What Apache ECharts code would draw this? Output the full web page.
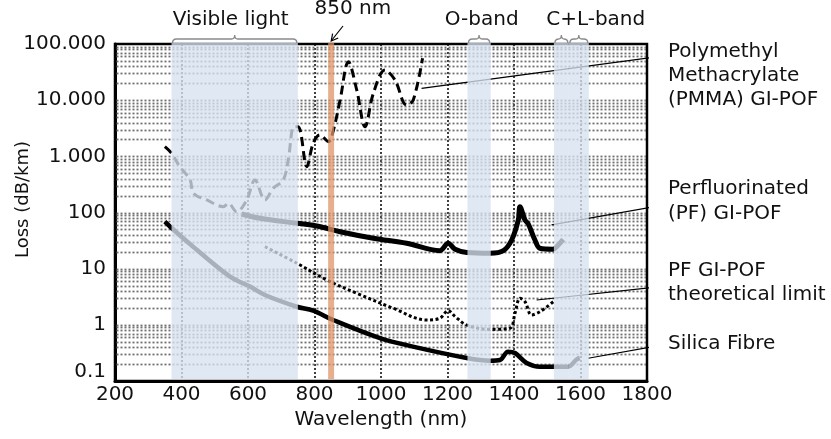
<!DOCTYPE html>
<html><head><meta charset="utf-8">
<script src="https://cdn.jsdelivr.net/npm/echarts@6/dist/echarts.min.js"></script>
<style>html,body{margin:0;padding:0;background:#fff}#c{width:831px;height:439px}</style>
</head><body><div id="c"></div>
<script>
// ---------- data ----------
const xTickValues = [200, 400, 600, 800, 1000, 1200, 1400, 1600, 1800];
const yTickLabels = ['0.1', '1', '10', '100', '1.000', '10.000', '100.000'];

const pmmaWl   = [350, 370, 395, 426, 436, 476, 526, 541, 566, 596, 621, 651, 676, 706, 721, 738, 751, 777, 796, 816, 842, 857, 877, 902, 927, 952, 977, 1012, 1042, 1077, 1097, 1125];
const pmmaLoss = [1485, 1133, 655, 379, 220, 167, 127, 146, 103, 167, 379, 167, 270, 379, 861, 3375, 3375, 655, 1707, 2399, 1823, 2946, 10070, 48400, 15170, 3375, 13250, 34400, 22850, 8200, 10070, 55600];

const pfWl   = [581, 636, 747, 807, 877, 977, 1077, 1177, 1202, 1223, 1258, 1328, 1368, 1393, 1413, 1418, 1433, 1443, 1463, 1478, 1518, 1533, 1548];
const pfLoss = [94, 78.8, 64.3, 57.5, 45.5, 34.8, 28.3, 20.9, 28.3, 22.1, 19.4, 18.8, 20.9, 32.4, 73.6, 127, 73.6, 62.4, 32.4, 23.1, 22.2, 26.4, 33.3];

const limitWl   = [651, 747, 837, 927, 1037, 1137, 1177, 1202, 1223, 1258, 1328, 1388, 1403, 1418, 1433, 1453, 1478, 1518];
const limitLoss = [24.6, 12.5, 6.28, 3.65, 1.97, 1.22, 1.31, 1.79, 1.40, 0.99, 0.83, 0.87, 1.61, 2.97, 2.58, 1.50, 1.71, 2.58];

const silicaWl   = [350, 370, 435, 546, 606, 651, 747, 796, 856, 997, 1096, 1258, 1328, 1358, 1382, 1403, 1438, 1478, 1517, 1562, 1589, 1598];
const silicaLoss = [68.6, 53, 24.6, 7.2, 4.8, 3.4, 2.1, 1.79, 1.22, 0.58, 0.41, 0.257, 0.23, 0.237, 0.333, 0.315, 0.21, 0.18, 0.18, 0.18, 0.244, 0.257];

const bandNames = ['Visible light', 'O-band', 'C-band', 'L-band', '850 nm'];
const bandStart = [370, 1260, 1520, 1565, 841];
const bandEnd   = [750, 1330, 1565, 1625, 859];

const seriesNames = ['Polymethyl\nMethacrylate\n(PMMA) GI-POF', 'Perfluorinated\n(PF) GI-POF', 'PF GI-POF\ntheoretical limit', 'Silica Fibre'];
// leader line anchor points [wavelength, loss] -> label
const leaderFrom = [[1122, 16250], [1513, 60], [1468, 2.77], [1623, 0.254]];
const leaderTo   = [[1819, 58000], [1839, 132], [1839, 4.78], [1819, 0.41]];

// ---------- build ----------
const FONT = 'DejaVu Sans';
const X_MIN = 200, X_MAX = 1800, Y_MIN = 0.1, Y_MAX = 100000;

const zip = (a, b) => a.map((v, i) => [v, b[i]]);

const gridVals = [];
for (let k = -1; k <= 4; k++) for (let m = 1; m <= 9; m++) {
  const v = m * Math.pow(10, k);
  if (v > Y_MIN * 1.0001) gridVals.push(+v.toPrecision(3));
}

const chart = echarts.init(document.getElementById('c'), null, {renderer: 'canvas'});

const lineBase = {type: 'line', symbol: 'none', smooth: 0.35, silent: true, z: 3};
const txt = (text, x, y, extra) => ({type: 'text', x, y, silent: true,
  style: Object.assign({text, font: `20px "${FONT}"`, fill: '#111', textAlign: 'center', textVerticalAlign: 'middle'}, extra || {})});

const option = {
  animation: false,
  backgroundColor: '#fff',
  grid: {left: 115, right: 184, top: 44, bottom: 58, containLabel: false, outerBoundsMode: 'none',
    show: true, borderColor: '#000', borderWidth: 2.5, backgroundColor: 'transparent'},
  xAxis: {
    type: 'value', min: X_MIN, max: X_MAX, interval: 200,
    name: 'Wavelength (nm)', nameLocation: 'middle', nameGap: 29, nameMoveOverlap: false,
    nameTextStyle: {fontFamily: FONT, fontSize: 20, color: '#111'},
    axisLine: {lineStyle: {color: '#000', width: 3}},
    axisTick: {show: false},
    axisLabel: {fontFamily: FONT, fontSize: 20, color: '#111', margin: 4,
      formatter: v => xTickValues.includes(v) ? String(v) : ''},
    splitLine: {show: true, lineStyle: {color: '#000', width: 1.5, type: [2, 2]}}
  },
  yAxis: {
    type: 'log', logBase: 10, min: Y_MIN, max: Y_MAX, splitNumber: 6,
    name: 'Loss (dB/km)', nameLocation: 'middle', nameGap: 83, nameRotate: 90, nameMoveOverlap: false,
    nameTextStyle: {fontFamily: FONT, fontSize: 18, color: '#111', padding: [0, 0, 0, 26]},
    axisLine: {show: true, lineStyle: {color: '#000', width: 3}},
    axisTick: {show: false},
    axisLabel: {fontFamily: FONT, fontSize: 20, color: '#111', margin: 9,
      formatter: v => {
        const i = Math.round(Math.log10(v)) + 1;
        const t = yTickLabels[i] || '';
        return i === 0 ? '{low|' + t + '}' : t;
      },
      rich: {low: {fontFamily: FONT, fontSize: 20, color: '#111', padding: [0, 0, 18, 0]}}
    },
    splitLine: {show: false}
  },
  series: [
    // horizontal log grid
    {
      type: 'custom', silent: true, z: 1,
      data: gridVals.map(v => [X_MIN, v]),
      renderItem: (params, api) => {
        const v = api.value(1);
        const p1 = api.coord([X_MIN, v]), p2 = api.coord([X_MAX, v]);
        return {type: 'line', shape: {x1: p1[0] + 1.5, y1: Math.round(p1[1]) + 0.5, x2: p2[0] - 1, y2: Math.round(p2[1]) + 0.5},
          style: {stroke: '#6f6f6f', lineWidth: 1.8, lineDash: [2, 2]}};
      }
    },
    Object.assign({}, lineBase, {name: seriesNames[0], data: zip(pmmaWl, pmmaLoss),
      lineStyle: {color: '#000', width: 3, type: [9, 5]}}),
    Object.assign({}, lineBase, {name: seriesNames[1], data: zip(pfWl, pfLoss),
      lineStyle: {color: '#000', width: 5}}),
    Object.assign({}, lineBase, {name: seriesNames[2], data: zip(limitWl, limitLoss),
      lineStyle: {color: '#000', width: 3, type: [3, 2.5]}}),
    Object.assign({}, lineBase, {name: seriesNames[3], data: zip(silicaWl, silicaLoss),
      lineStyle: {color: '#000', width: 4.5}}),
    // leader lines
    ...leaderFrom.map((p, i) => ({
      type: 'line', symbol: 'none', silent: true, clip: false, z: 3,
      data: [p, leaderTo[i]], lineStyle: {color: '#000', width: 1.2}
    })),
    // band overlays + braces
    {
      type: 'custom', silent: true, z: 10, clip: false,
      data: bandStart.map((s, i) => [s, bandEnd[i], i]),
      renderItem: (params, api) => {
        const i = params.dataIndex;
        const a = api.coord([api.value(0), Y_MAX]);
        const b = api.coord([api.value(1), Y_MIN]);
        const isLaser = bandNames[i] === '850 nm';
        const children = [{
          type: 'rect',
          shape: {x: a[0], y: a[1] - 1.5, width: b[0] - a[0], height: b[1] - a[1] - 0.5},
          style: {fill: isLaser ? 'rgba(222,150,105,0.75)' : 'rgba(214,226,239,0.78)'}
        }];
        if (!isLaser) {
          const x0 = a[0] + 1, x1 = b[0] - 1, xm = (x0 + x1) / 2, y0 = a[1] - 5, yb = a[1] - 1;
          children.push({
            type: 'path',
            shape: {pathData: `M${x0} ${yb} Q${x0} ${y0} ${x0 + 4} ${y0} L${xm - 3} ${y0} Q${xm} ${y0} ${xm} ${y0 - 4} Q${xm} ${y0} ${xm + 3} ${y0} L${x1 - 4} ${y0} Q${x1} ${y0} ${x1} ${yb}`},
            style: {fill: null, stroke: '#8a8a8a', lineWidth: 1.3}
          });
        }
        return {type: 'group', children};
      }
    }
  ],
  graphic: [
    txt('Visible light', 230.7, 20),
    txt('O-band', 481.7, 20),
    txt('C+L-band', 595.7, 20),
    txt('850 nm', 352.8, 9),
    {type: 'line', silent: true, shape: {x1: 343, y1: 26, x2: 331.5, y2: 40.5}, style: {stroke: '#000', lineWidth: 1.2}},
    {type: 'polyline', silent: true, shape: {points: [[332.6, 33.6], [331.2, 41], [338.2, 38]]}, style: {stroke: '#000', lineWidth: 1.2, fill: null}},
    txt(seriesNames[0], 668, 39.7, {textAlign: 'left', textVerticalAlign: 'top', lineHeight: 24.2}),
    txt(seriesNames[1], 668, 177, {textAlign: 'left', textVerticalAlign: 'top', lineHeight: 24.2}),
    txt(seriesNames[2], 668, 258.7, {textAlign: 'left', textVerticalAlign: 'top', lineHeight: 24.2}),
    txt(seriesNames[3], 668, 331.3, {textAlign: 'left', textVerticalAlign: 'top', lineHeight: 24.2})
  ]
};
chart.setOption(option);
</script>
</body></html>
